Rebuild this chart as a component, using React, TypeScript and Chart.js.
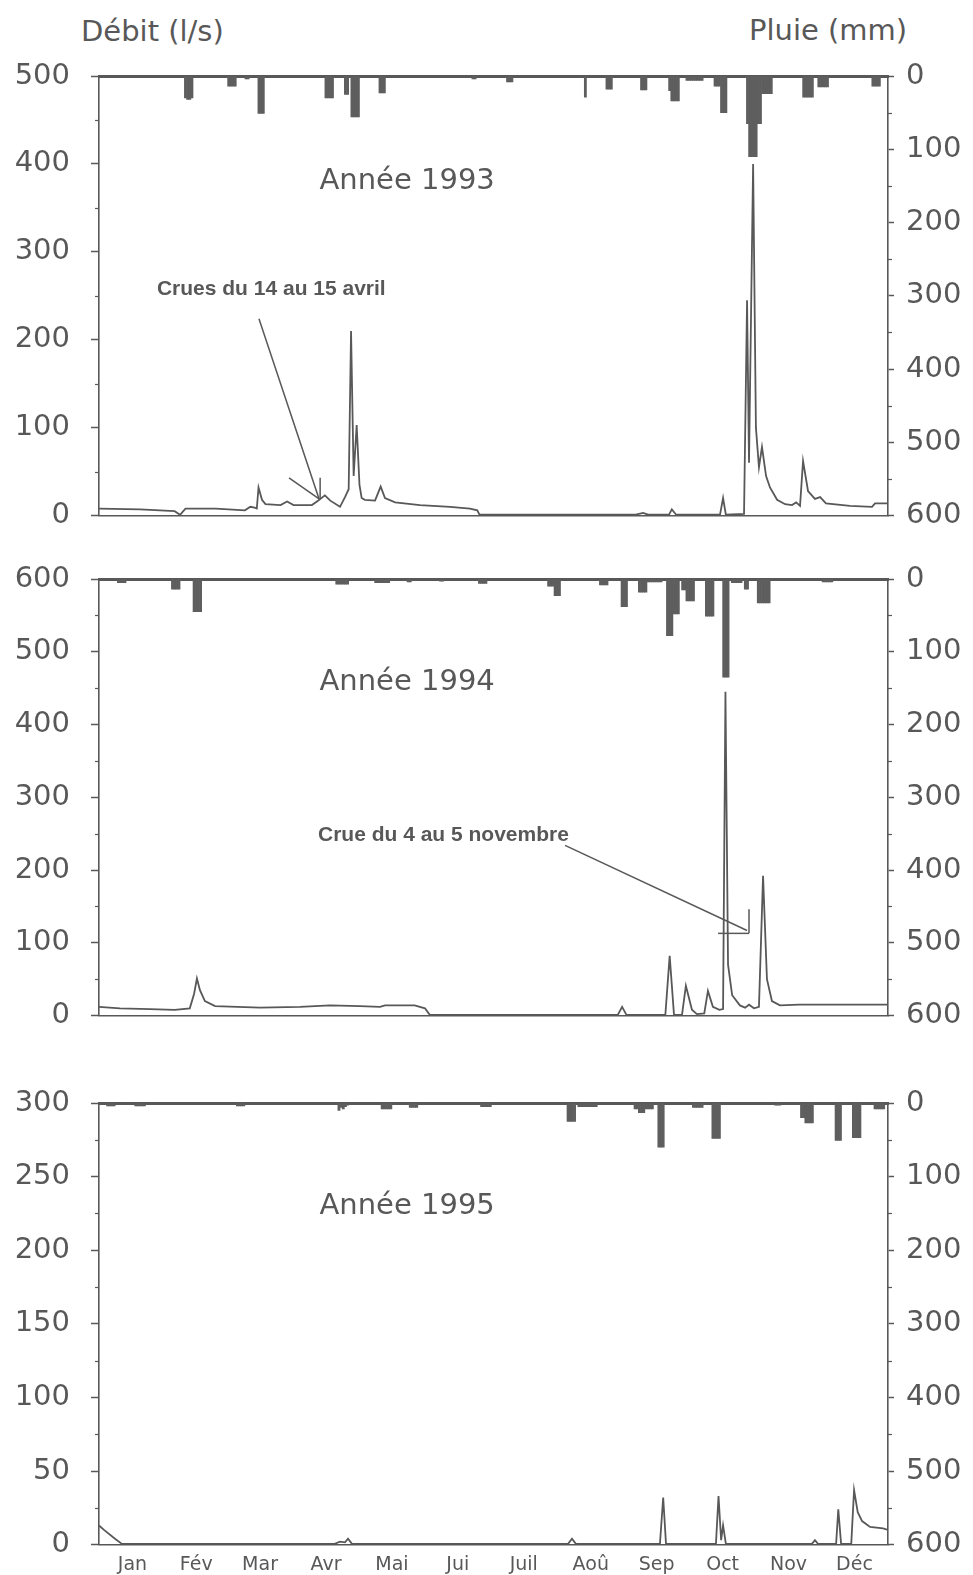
import React, { useEffect, useRef } from "react";
import { Chart, registerables } from "chart.js";
Chart.register(...registerables);

const INK = "#585858";
const BAR_FILL = "#5e5e5e";
const NUM_FONT = "'DejaVu Sans', 'Liberation Sans', sans-serif";
const NOTE_FONT = "'Liberation Sans', Arial, sans-serif";

// ---------- categories / ticks ----------
const monthLabels = ["Jan", "Fév", "Mar", "Avr", "Mai", "Jui", "Juil", "Aoû", "Sep", "Oct", "Nov", "Déc"];
const monthMidDays = [15.5, 45, 74.5, 105, 135.5, 166, 196.5, 227.5, 258, 288.5, 319, 349.5];

// ---------- 1993 ----------
const flowDays1993 = [0, 19, 35, 37.5, 40, 54, 67.5, 70, 72, 73, 73.8, 75.4, 77, 84, 87, 90, 98.5, 101.3, 104.5, 107, 111.5, 113.8, 115.5, 116.6, 117.8, 119.2, 120.5, 121.5, 123, 127.7, 130.3, 132.3, 137, 148.5, 162.4, 171.6, 175, 176, 248.4, 251.7, 254, 263.7, 265, 267, 287.3, 288.7, 290, 298.4, 299.8, 300.7, 302.6, 303.9, 305.3, 306.7, 308.6, 310.4, 313.7, 317.4, 320.6, 322.5, 324.3, 325.7, 328, 331.2, 333.6, 336.3, 347.4, 357.6, 359, 365];
const flowLps1993 = [8, 7, 5, 1, 8, 8, 6, 10, 9, 8, 32, 18, 13, 12, 16, 12, 12, 17, 23, 17, 10, 21, 30, 210, 45, 103, 35, 20, 18, 17, 33, 20, 15, 12, 10, 8, 6, 1, 1, 3, 1, 1, 7, 1, 1, 20, 1, 2, 245, 60, 400, 100, 55, 78, 45, 32, 18, 13, 12, 15, 11, 62, 28, 19, 21, 14, 11, 10, 14, 14];
const rainDays1993 = [40, 41, 42, 43, 60, 61, 62, 63, 68, 69, 74, 75, 76, 105, 106, 107, 108, 114, 115, 117, 118, 119, 120, 130, 131, 132, 173, 174, 189, 190, 191, 225, 235, 236, 237, 251, 252, 253, 264, 265, 266, 267, 268, 272, 273, 274, 275, 276, 277, 278, 279, 285, 286, 287, 288, 289, 290, 300, 301, 302, 303, 304, 305, 306, 307, 308, 309, 310, 311, 326, 327, 328, 329, 330, 333, 334, 335, 336, 337, 358, 359, 360, 361];
const rainMm1993 = [30, 32, 32, 30, 14, 14, 14, 14, 4, 4, 51, 51, 51, 30, 30, 30, 30, 25, 25, 56, 56, 56, 56, 23, 23, 23, 4, 4, 8, 8, 8, 29, 18, 18, 18, 19, 19, 19, 20, 34, 34, 34, 34, 6, 6, 6, 6, 6, 6, 6, 6, 14, 14, 14, 50, 50, 50, 65, 110, 110, 110, 110, 65, 65, 24, 24, 24, 24, 24, 29, 29, 29, 29, 29, 15, 15, 15, 15, 15, 14, 14, 14, 14];

// ---------- 1994 ----------
const flowDays1994 = [0, 9.7, 23.6, 35, 42, 44, 45.3, 46.7, 49, 53.7, 74.5, 93, 106.9, 120.7, 130, 132.3, 146, 150.8, 153, 240, 242, 244, 262, 264, 266, 269.7, 271.5, 274.3, 276.6, 280, 281.7, 284, 287, 288.7, 289.8, 291, 292.9, 296.5, 298.9, 300.7, 303, 305.3, 307.2, 309, 311.3, 315, 324, 362.7, 365];
const flowLps1994 = [12, 10, 9, 8, 10, 30, 51, 35, 20, 13, 11, 12, 14, 13, 12, 14, 14, 10, 1, 1, 12, 1, 1, 82, 1, 1, 41, 8, 2, 3, 34, 12, 8, 9, 445, 70, 28, 14, 11, 15, 10, 12, 192, 50, 20, 14, 15, 15, 15];
const rainDays1994 = [9, 10, 11, 12, 34, 35, 36, 37, 44, 45, 46, 47, 110, 111, 112, 113, 114, 115, 128, 129, 130, 131, 132, 133, 134, 143, 144, 158, 159, 176, 177, 178, 179, 208, 209, 210, 211, 212, 213, 232, 233, 234, 235, 242, 243, 244, 250, 251, 252, 253, 254, 255, 256, 257, 258, 259, 260, 263, 264, 265, 266, 267, 268, 270, 271, 272, 273, 274, 275, 281, 282, 283, 284, 289, 290, 291, 293, 294, 295, 296, 297, 299, 300, 305, 306, 307, 308, 309, 310, 335, 336, 337, 338, 339];
const rainMm1994 = [5, 5, 5, 5, 14, 14, 14, 14, 45, 45, 45, 45, 7, 7, 7, 7, 7, 7, 5, 5, 5, 5, 5, 5, 5, 4, 4, 3, 3, 6, 6, 6, 6, 10, 10, 10, 23, 23, 23, 8, 8, 8, 8, 38, 38, 38, 18, 18, 18, 18, 4, 4, 4, 4, 4, 4, 4, 78, 78, 78, 48, 48, 48, 15, 15, 30, 30, 30, 30, 51, 51, 51, 51, 135, 135, 135, 5, 5, 5, 5, 5, 14, 14, 33, 33, 33, 33, 33, 33, 4, 4, 4, 4, 4];

// ---------- 1995 ----------
const flowDays1995 = [0, 2.3, 7.4, 10.6, 109, 111.5, 113.8, 115.2, 117, 217, 218.8, 220.6, 259.5, 261, 262.3, 285.4, 286.6, 287.8, 288.7, 290, 329.8, 331.2, 332.6, 341, 342, 343.3, 348, 349.3, 351, 353, 356.7, 362.7, 365];
const flowLps1995 = [13, 10, 4, 0.5, 0.5, 2, 1.5, 4, 0.5, 0.5, 4, 0.5, 0.5, 32, 0.5, 0.5, 33, 3, 13, 0.5, 0.5, 3, 0.5, 0.5, 24, 0.5, 0.5, 37, 22, 16, 12, 11, 10];
const rainDays1995 = [4, 5, 6, 7, 17, 18, 19, 20, 21, 64, 65, 66, 67, 111, 112, 113, 114, 115, 131, 132, 133, 134, 135, 144, 145, 146, 147, 177, 178, 179, 180, 181, 217, 218, 219, 220, 222, 223, 224, 225, 226, 227, 228, 229, 230, 248, 249, 250, 251, 252, 253, 254, 255, 256, 259, 260, 261, 275, 276, 277, 278, 279, 284, 285, 286, 287, 313, 314, 315, 325, 326, 327, 328, 329, 330, 341, 342, 343, 349, 350, 351, 352, 359, 360, 361, 362, 363];
const rainMm1995 = [4, 4, 4, 4, 4, 4, 4, 4, 4, 4, 4, 4, 4, 10, 6, 8, 5, 3, 8, 8, 8, 8, 8, 6, 6, 6, 6, 5, 5, 5, 5, 5, 25, 25, 25, 25, 5, 5, 5, 5, 5, 5, 5, 5, 5, 8, 8, 13, 13, 13, 8, 8, 8, 8, 60, 60, 60, 6, 6, 6, 6, 6, 48, 48, 48, 48, 3, 3, 3, 20, 20, 27, 27, 27, 27, 51, 51, 51, 47, 47, 47, 47, 8, 8, 8, 8, 8];

// ---------- annotations (data coordinates: day, l/s) ----------
const notes1993 = [
  { text: "Année 1993", day: 102, val: 380, font: `29px ${NUM_FONT}` },
  { text: "Crues du 14 au 15 avril", day: 26.8, val: 257, font: `bold 21px ${NOTE_FONT}` },
];
const segs1993 = [
  [74, 224, 101.8, 19],
  [87.9, 43, 101.8, 19],
  [102.3, 43, 102.3, 19],
];
const notes1994 = [
  { text: "Année 1994", day: 102, val: 458, font: `29px ${NUM_FONT}` },
  { text: "Crue du 4 au 5 novembre", day: 101.3, val: 248, font: `bold 21px ${NOTE_FONT}` },
];
const segs1994 = [
  [215.6, 234, 299.8, 117],
  [300.7, 146, 300.7, 113],
  [286.4, 113, 300.7, 113],
];
const notes1995 = [{ text: "Année 1995", day: 102, val: 230, font: `29px ${NUM_FONT}` }];
const segs1995: number[][] = [];

type PanelCfg = {
  flowDays: number[]; flow: number[]; rainDays: number[]; rain: number[];
  yMax: number; yStep: number; yMinor: number;
  canvasTop: number; canvasH: number; padBottom: number; showMonths: boolean;
  notes: { text: string; day: number; val: number; font: string }[];
  segs: number[][];
};

const panels: PanelCfg[] = [
  { flowDays: flowDays1993, flow: flowLps1993, rainDays: rainDays1993, rain: rainMm1993, yMax: 500, yStep: 100, yMinor: 50, canvasTop: 36, canvasH: 518, padBottom: 20, showMonths: false, notes: notes1993, segs: segs1993 },
  { flowDays: flowDays1994, flow: flowLps1994, rainDays: rainDays1994, rain: rainMm1994, yMax: 600, yStep: 100, yMinor: 50, canvasTop: 539, canvasH: 515, padBottom: 20, showMonths: false, notes: notes1994, segs: segs1994 },
  { flowDays: flowDays1995, flow: flowLps1995, rainDays: rainDays1995, rain: rainMm1995, yMax: 300, yStep: 50, yMinor: 25, canvasTop: 1063, canvasH: 520, padBottom: 0, showMonths: true, notes: notes1995, segs: segs1995 },
];

function minorTicksPlugin(p: PanelCfg) {
  return {
    id: "minorTicks",
    afterDraw(chart: any) {
      const ctx = chart.ctx;
      const defs = [
        { s: chart.scales.y, step: p.yMinor, major: p.yStep, left: true, len: 4 },
        { s: chart.scales.yR, step: 50, major: 100, left: false, len: 4 },
      ];
      ctx.save();
      ctx.strokeStyle = INK;
      ctx.lineWidth = 1.2;
      for (const d of defs) {
        for (let v = d.s.min; v <= d.s.max + 1e-6; v += d.step) {
          if (Math.abs(v % d.major) < 1e-6) continue;
          const y = Math.round(d.s.getPixelForValue(v)) + 0.5;
          const x0 = d.left ? d.s.right : d.s.left;
          const x1 = d.left ? x0 - d.len : x0 + d.len;
          ctx.beginPath();
          ctx.moveTo(x0, y);
          ctx.lineTo(x1, y);
          ctx.stroke();
        }
      }
      ctx.restore();
    },
  };
}

function notesPlugin(p: PanelCfg) {
  return {
    id: "notes",
    afterDatasetsDraw(chart: any) {
      const { ctx } = chart;
      const x = chart.scales.x;
      const y = chart.scales.y;
      ctx.save();
      ctx.strokeStyle = INK;
      ctx.lineWidth = 1.5;
      for (const s of p.segs) {
        ctx.beginPath();
        ctx.moveTo(x.getPixelForValue(s[0]), y.getPixelForValue(s[1]));
        ctx.lineTo(x.getPixelForValue(s[2]), y.getPixelForValue(s[3]));
        ctx.stroke();
      }
      ctx.fillStyle = INK;
      ctx.textAlign = "left";
      ctx.textBaseline = "middle";
      for (const t of p.notes) {
        ctx.font = t.font;
        ctx.fillText(t.text, x.getPixelForValue(t.day), y.getPixelForValue(t.val));
      }
      ctx.restore();
    },
  };
}

function buildConfig(p: PanelCfg): any {
  const tickFont = { family: NUM_FONT, size: 29 };
  return {
    type: "bar",
    data: {
      datasets: [
        {
          type: "line",
          label: "Débit (l/s)",
          data: p.flowDays.map((d, i) => ({ x: d, y: p.flow[i] })),
          xAxisID: "x",
          yAxisID: "y",
          borderColor: INK,
          borderWidth: 1.8,
          pointRadius: 0,
          tension: 0,
          fill: false,
          order: 0,
        },
        {
          type: "bar",
          label: "Pluie (mm)",
          data: p.rainDays.map((d, i) => ({ x: d, y: p.rain[i] })),
          xAxisID: "x",
          yAxisID: "yR",
          backgroundColor: BAR_FILL,
          borderWidth: 0,
          barPercentage: 1,
          categoryPercentage: 1,
          order: 1,
        },
      ],
    },
    options: {
      animation: false,
      responsive: false,
      maintainAspectRatio: false,
      events: [],
      layout: { padding: { top: 40, bottom: p.padBottom, left: 0, right: 0 } },
      plugins: { legend: { display: false }, tooltip: { enabled: false } },
      scales: {
        x: {
          type: "linear",
          position: "bottom",
          min: 0,
          max: 365,
          offset: false,
          grid: { display: false, drawTicks: false },
          border: { display: true, color: INK, width: 1.6 },
          ticks: {
            display: p.showMonths,
            autoSkip: false,
            maxRotation: 0,
            padding: 9,
            color: INK,
            font: { family: NUM_FONT, size: 19 },
            callback: (_v: any, i: number) => monthLabels[i],
          },
          afterBuildTicks: (s: any) => {
            s.ticks = monthMidDays.map((v) => ({ value: v }));
          },
          afterFit: (s: any) => {
            s.height = p.showMonths ? 35 : 0;
          },
        },
        xTop: {
          type: "linear",
          position: "top",
          min: 0,
          max: 365,
          offset: false,
          grid: { display: false, drawTicks: false },
          border: { display: true, color: INK, width: 3 },
          ticks: { display: false },
          afterFit: (s: any) => {
            s.height = 0;
          },
        },
        y: {
          type: "linear",
          position: "left",
          min: 0,
          max: p.yMax,
          ticks: { stepSize: p.yStep, color: INK, font: tickFont, padding: 21 },
          grid: { drawOnChartArea: false, drawTicks: true, tickLength: 8, tickColor: INK, tickWidth: 1.5 },
          border: { display: true, color: INK, width: 1.6 },
          afterFit: (s: any) => {
            s.width = 99;
          },
        },
        yR: {
          type: "linear",
          position: "right",
          reverse: true,
          min: 0,
          max: 600,
          ticks: { stepSize: 100, color: INK, font: tickFont, padding: 12 },
          grid: { drawOnChartArea: false, drawTicks: true, tickLength: 6, tickColor: INK, tickWidth: 1.5 },
          border: { display: true, color: INK, width: 1.6 },
          afterFit: (s: any) => {
            s.width = 85;
          },
        },
      },
    },
    plugins: [minorTicksPlugin(p), notesPlugin(p)],
  };
}

function Panel({ cfg }: { cfg: PanelCfg }) {
  const ref = useRef<HTMLCanvasElement>(null);
  useEffect(() => {
    if (!ref.current) return;
    const chart = new Chart(ref.current, buildConfig(cfg));
    return () => chart.destroy();
  }, [cfg]);
  return (
    <canvas
      ref={ref}
      width={973}
      height={cfg.canvasH}
      style={{ position: "absolute", left: 0, top: cfg.canvasTop, width: 973, height: cfg.canvasH }}
    />
  );
}

const titleStyle: React.CSSProperties = {
  position: "absolute",
  fontFamily: NUM_FONT,
  fontSize: 29,
  lineHeight: "34px",
  color: INK,
  whiteSpace: "nowrap",
};

export default function App() {
  return (
    <div style={{ position: "absolute", left: 0, top: 0, width: 973, height: 1575, background: "#ffffff", overflow: "hidden" }}>
      <div style={{ ...titleStyle, left: 81, top: 14 }}>Débit (l/s)</div>
      <div style={{ ...titleStyle, left: 749, top: 13 }}>Pluie (mm)</div>
      {panels.map((p, i) => (
        <Panel key={i} cfg={p} />
      ))}
    </div>
  );
}
